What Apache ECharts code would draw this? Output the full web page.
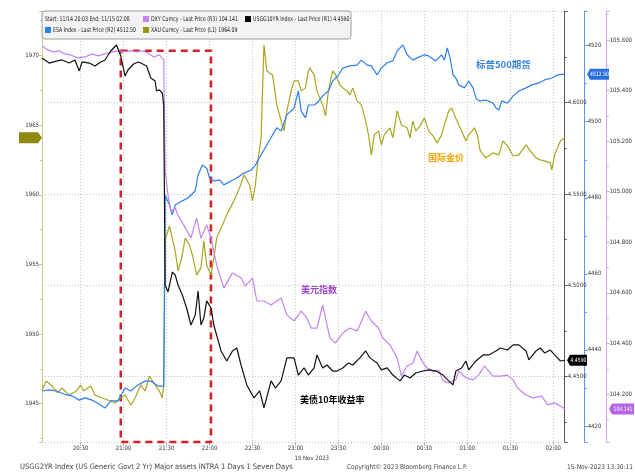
<!DOCTYPE html>
<html><head><meta charset="utf-8">
<script src="https://cdn.jsdelivr.net/npm/echarts@6/dist/echarts.min.js"></script>
<style>html,body{margin:0;padding:0;background:#fff}#c{width:635px;height:475px}</style>
</head><body><div id="c"></div>
<script>
// ---------- data ----------
const tickLabels = ['20:30','21:00','21:30','22:00','22:30','23:00','23:30','00:00','00:30','01:00','01:30','02:00'];
const startMinute = 20*60+3, endMinute = 26*60+8; // 20:03 .. 02:08 (next day)

const goldData = [['20:03',1945.98],['20:06',1946.63],['20:10',1946.27],['20:14',1945.77],['20:17',1946.13],['20:22',1945.62],['20:27',1945.91],['20:30',1946.34],['20:32',1945.91],['20:37',1946.27],['20:40',1945.62],['20:45',1945.41],['20:49',1945.27],['20:54',1945.05],['20:58',1945.41],['21:01',1945.62],['21:05',1944.91],['21:08',1945.41],['21:10',1945.91],['21:12',1946.34],['21:15',1945.91],['21:18',1946.99],['21:22',1946.34],['21:25',1945.91],['21:27',1945.41],['21:28',1946.34],
['21:29',1956.76],['21:32',1957.77],['21:36',1955.97],['21:38',1954.53],['21:41',1955.68],['21:43',1956.90],['21:46',1956.40],['21:48',1955.68],['21:51',1954.25],['21:54',1954.75],['21:56',1956.69],['21:58',1954.96],['22:01',1954.25],['22:03',1955.47],['22:05',1956.90],['22:09',1957.84],['22:12',1958.56],['22:17',1959.56],['22:21',1960.50],['22:24',1961.43],['22:28',1960.71],['22:30',1959.56],['22:32',1960.71],['22:34',1962.65],['22:36',1964.09],['22:37',1967.54],['22:38',1970.77],['22:40',1968.90],['22:44',1968.61],['22:47',1966.46],['22:50',1965.31],['22:52',1964.59],['22:54',1966.03],['22:57',1967.46],['22:59',1968.18],['23:02',1968.18],['23:04',1967.46],['23:07',1967.68],['23:09',1968.90],['23:10',1969.12],['23:13',1968.61],['23:15',1967.46],['23:19',1966.46],['23:21',1965.67],['23:23',1967.46],['23:26',1968.90],['23:28',1968.61],['23:31',1967.90],['23:33',1967.68],['23:36',1967.46],['23:38',1967.18],['23:40',1967.68],['23:43',1966.75],['23:46',1966.46],['23:49',1965.31],['23:51',1964.30],['23:53',1962.87],['23:55',1964.30],['23:58',1964.59],['00:00',1963.58],['00:02',1964.30],['00:06',1964.81],['00:08',1964.09],['00:11',1966.03],['00:14',1965.02],['00:18',1964.81],['00:20',1964.09],['00:22',1965.31],['00:24',1964.59],['00:27',1964.95],['00:30',1965.52],['00:33',1964.59],['00:36',1964.23],['00:39',1963.73],['00:42',1964.30],['00:44',1965.02],['00:47',1966.03],['00:49',1966.24],['00:51',1965.74],['00:54',1965.02],['00:56',1964.59],['00:59',1963.87],['01:01',1964.30],['01:05',1964.81],['01:07',1964.30],['01:09',1963.15],['01:13',1962.65],['01:16',1962.87],['01:18',1963.01],['01:22',1962.87],['01:25',1963.87],['01:29',1963.37],['01:32',1962.79],['01:36',1962.87],['01:41',1963.58],['01:44',1963.15],['01:48',1962.65],['01:51',1962.51],['01:54',1962.44],['01:58',1962.29],['01:59',1961.79],['02:01',1962.87],['02:05',1963.87],['02:08',1964.09]];

const esaData = [['20:03',4429.2],['20:08',4429.5],['20:13',4429.2],['20:20',4428.2],['20:24',4427.9],['20:29',4426.8],['20:33',4427.4],['20:38',4426.8],['20:42',4426.0],['20:47',4424.7],['20:51',4426.6],['20:56',4426.6],['21:01',4430.0],['21:05',4429.2],['21:10',4430.8],['21:15',4431.8],['21:19',4431.8],['21:24',4430.5],['21:28',4430.5],
['21:29',4480.7],['21:32',4478.1],['21:34',4475.5],['21:36',4478.1],['21:41',4479.2],['21:45',4480.0],['21:50',4481.8],['21:52',4486.0],['21:55',4488.6],['21:58',4487.8],['22:00',4485.2],['22:03',4484.4],['22:07',4484.7],['22:10',4483.4],['22:15',4484.4],['22:19',4485.2],['22:24',4486.5],['22:29',4487.3],['22:32',4488.6],['22:36',4491.3],['22:40',4493.9],['22:44',4496.5],['22:47',4498.4],['22:50',4497.6],['22:54',4501.8],['22:59',4503.6],['23:02',4508.1],['23:04',4502.8],['23:07',4501.0],['23:09',4504.4],['23:13',4504.4],['23:15',4504.9],['23:19',4506.8],['23:23',4508.1],['23:26',4510.7],['23:30',4512.3],['23:33',4514.1],['23:38',4514.7],['23:43',4514.9],['23:46',4516.2],['23:50',4514.9],['23:53',4514.7],['23:57',4512.3],['00:00',4514.1],['00:04',4515.5],['00:08',4516.0],['00:11',4518.6],['00:15',4520.2],['00:18',4517.6],['00:22',4516.2],['00:25',4516.8],['00:30',4517.6],['00:33',4517.3],['00:38',4516.0],['00:42',4517.6],['00:44',4516.2],['00:46',4519.4],['00:48',4516.8],['00:50',4512.3],['00:52',4511.5],['00:54',4509.7],['00:58',4508.9],['01:01',4510.7],['01:04',4508.9],['01:06',4506.2],['01:08',4505.5],['01:13',4505.7],['01:18',4504.9],['01:20',4503.6],['01:22',4503.1],['01:24',4505.5],['01:28',4504.9],['01:32',4506.8],['01:36',4508.1],['01:41',4508.9],['01:45',4509.7],['01:50',4510.2],['01:54',4511.0],['01:59',4511.5],['02:03',4512.3],['02:08',4512.5]];

const dxyData = [['20:03',105.576],['20:06',105.564],['20:11',105.553],['20:15',105.557],['20:19',105.545],['20:23',105.541],['20:28',105.529],['20:33',105.533],['20:38',105.545],['20:42',105.537],['20:47',105.545],['20:52',105.553],['20:56',105.557],['21:00',105.553],['21:05',105.557],['21:09',105.553],['21:13',105.557],['21:17',105.549],['21:21',105.533],['21:25',105.541],['21:28',105.521],
['21:29',105.086],['21:31',104.987],['21:33',104.920],['21:36',104.936],['21:38',104.908],['21:43',104.857],['21:47',104.817],['21:51',104.896],['21:54',104.817],['21:58',104.869],['22:01',104.817],['22:05',104.710],['22:10',104.619],['22:16',104.679],['22:22',104.659],['22:25',104.627],['22:30',104.659],['22:33',104.568],['22:38',104.568],['22:43',104.552],['22:47',104.568],['22:50',104.580],['22:54',104.513],['22:59',104.489],['23:04',104.528],['23:08',104.501],['23:11',104.461],['23:15',104.461],['23:19',104.552],['23:24',104.422],['23:28',104.402],['23:33',104.441],['23:38',104.461],['23:43',104.449],['23:45',104.473],['23:49',104.528],['23:53',104.489],['23:58',104.461],['00:01',104.422],['00:06',104.394],['00:11',104.343],['00:14',104.271],['00:18',104.311],['00:22',104.323],['00:25',104.370],['00:29',104.323],['00:32',104.303],['00:36',104.291],['00:40',104.295],['00:43',104.252],['00:47',104.244],['00:52',104.256],['00:54',104.291],['00:59',104.264],['01:04',104.256],['01:08',104.275],['01:12',104.311],['01:15',104.291],['01:18',104.271],['01:23',104.271],['01:28',104.275],['01:32',104.256],['01:35',104.224],['01:41',104.196],['01:46',104.185],['01:52',104.192],['01:56',104.157],['02:01',104.165],['02:05',104.153],['02:08',104.141]];

const us10yData = [['20:03',4.6245],['20:08',4.6217],['20:13',4.6228],['20:17',4.6234],['20:22',4.6217],['20:26',4.6234],['20:29',4.6174],['20:31',4.6223],['20:36',4.6217],['20:40',4.6201],['20:44',4.6223],['20:47',4.6234],['20:51',4.6283],['20:55',4.6316],['20:58',4.6256],['21:01',4.6146],['21:03',4.6179],['21:07',4.6212],['21:10',4.6223],['21:12',4.6217],['21:16',4.6201],['21:19',4.6135],['21:22',4.6119],['21:23',4.6064],['21:25',4.6070],['21:27',4.6053],['21:28',4.5987],
['21:29',4.5002],['21:31',4.4964],['21:34',4.5073],['21:36',4.5057],['21:38',4.5002],['21:41',4.4947],['21:44',4.4876],['21:47',4.4783],['21:50',4.4838],['21:52',4.4969],['21:54',4.4783],['21:56',4.4821],['21:58',4.4915],['22:01',4.4876],['22:03',4.4783],['22:08',4.4641],['22:12',4.4586],['22:16',4.4641],['22:19',4.4657],['22:22',4.4564],['22:26',4.4455],['22:31',4.4384],['22:35',4.4422],['22:38',4.4329],['22:43',4.4477],['22:46',4.4438],['22:50',4.4477],['22:54',4.4603],['22:59',4.4603],['23:02',4.4509],['23:06',4.4548],['23:09',4.4509],['23:13',4.4548],['23:15',4.4619],['23:19',4.4548],['23:22',4.4564],['23:26',4.4531],['23:29',4.4531],['23:33',4.4548],['23:37',4.4575],['23:40',4.4564],['23:45',4.4603],['23:49',4.4641],['23:52',4.4603],['23:57',4.4575],['00:00',4.4537],['00:04',4.4548],['00:08',4.4509],['00:13',4.4477],['00:16',4.4509],['00:20',4.4493],['00:24',4.4520],['00:29',4.4531],['00:33',4.4537],['00:38',4.4531],['00:43',4.4509],['00:47',4.4477],['00:50',4.4455],['00:52',4.4531],['00:56',4.4548],['00:59',4.4586],['01:01',4.4537],['01:06',4.4586],['01:11',4.4619],['01:15',4.4619],['01:20',4.4641],['01:23',4.4657],['01:28',4.4646],['01:32',4.4674],['01:36',4.4674],['01:41',4.4641],['01:43',4.4592],['01:48',4.4641],['01:51',4.4657],['01:54',4.4630],['01:58',4.4646],['02:01',4.4619],['02:05',4.4586],['02:08',4.4590]];

const lastGold = 1964.09, lastEsa = 4512.50, lastDxy = 104.141, lastUs10y = 4.4590;
const boxRange = { fromTime: '20:58', toTime: '22:01', top: 1970.34, bottom: 1942.25 };

// ---------- chart ----------
const NF = '"Liberation Sans Narrow","DejaVu Sans Condensed","Roboto Condensed",Roboto,"Liberation Sans",sans-serif';
const CJK = '"Noto Sans CJK SC","Noto Sans CJK TC",sans-serif';
const C = { gold:'#aaa51f', esa:'#2b7ff0', dxy:'#c384f0', us10y:'#111111' };

const minutes = [];
for (let m = startMinute; m <= endMinute; m++) {
  const h = Math.floor(m/60)%24, mm = m%60;
  minutes.push(String(h).padStart(2,'0') + ':' + String(mm).padStart(2,'0'));
}
const isTick = (i, v) => tickLabels.indexOf(v) >= 0;
const near = (v, step) => Math.abs(v - Math.round(v/step)*step) < 1e-7;

function mkY(extra, lineColor, fmt) {
  return Object.assign({
    type: 'value', splitNumber: 6,
    axisLine: { show: true, onZero: false, lineStyle: { color: lineColor, width: 1 } },
    axisTick: { show: true, length: 3, lineStyle: { color: lineColor } },
    minorTick: { show: true, splitNumber: 2, length: 2, lineStyle: { color: lineColor } },
    splitLine: { show: false },
    axisLabel: { fontFamily: NF, fontSize: 6, color: '#333', margin: 3, formatter: fmt }
  }, extra);
}

const chart = echarts.init(document.getElementById('c'), null, { renderer: 'canvas' });
chart.setOption({
  animation: false,
  backgroundColor: '#ffffff',
  grid: { left: 42, right: 68, top: 11, bottom: 33, containLabel: false },
  xAxis: {
    type: 'category', data: minutes, boundaryGap: false,
    axisLine: { show: false },
    axisTick: { show: true, interval: isTick, length: 4, inside: false, lineStyle: { color: '#bbb' } },
    splitLine: { show: true, interval: isTick, lineStyle: { color: '#c4c4c4', type: [1, 2] } },
    axisLabel: { interval: isTick, fontFamily: NF, fontSize: 6, color: '#333', margin: 3 }
  },
  yAxis: [
    mkY({ position: 'left', min: 1942.25, max: 1973.2, minInterval: 5, maxInterval: 5 }, '#cbcb8e',
        v => near(v, 5) ? v.toFixed(0) : ''),
    mkY({ position: 'right', offset: 0, min: 4.41425, max: 4.6502, minInterval: 0.05, maxInterval: 0.05,
          splitLine: { show: true, lineStyle: { color: '#c4c4c4', type: [1, 2] } } }, '#555',
        v => (near(v, 0.05) && v < 4.62) ? v.toFixed(4) : ''),
    mkY({ position: 'right', offset: 20, min: 4415.79, max: 4529.12, minInterval: 20, maxInterval: 20 }, '#5c96f0',
        v => near(v, 20) ? v.toFixed(0) : ''),
    mkY({ position: 'right', offset: 42, min: 104.0104, max: 105.7147, minInterval: 0.2, maxInterval: 0.2 }, '#d2a6f5',
        v => near(v, 0.2) ? v.toFixed(3) : '')
  ],
  series: [
    { name: 'XAU', type: 'line', yAxisIndex: 0, data: goldData, showSymbol: false, symbol: 'none',
      lineStyle: { color: C.gold, width: 1.2 }, itemStyle: { color: C.gold }, z: 2,
      markArea: { silent: true, itemStyle: { color: 'rgba(0,0,0,0)', borderColor: '#d42222', borderWidth: 2.5, borderType: [7, 5] },
        data: [[{ xAxis: boxRange.fromTime, yAxis: boxRange.top }, { xAxis: boxRange.toTime, yAxis: boxRange.bottom }]] } },
    { name: 'ESA', type: 'line', yAxisIndex: 2, data: esaData, showSymbol: false, symbol: 'none',
      lineStyle: { color: C.esa, width: 1.2 }, itemStyle: { color: C.esa }, z: 3 },
    { name: 'DXY', type: 'line', yAxisIndex: 3, data: dxyData, showSymbol: false, symbol: 'none',
      lineStyle: { color: C.dxy, width: 1.2 }, itemStyle: { color: C.dxy }, z: 4 },
    { name: 'USGG10YR', type: 'line', yAxisIndex: 1, data: us10yData, showSymbol: false, symbol: 'none',
      lineStyle: { color: C.us10y, width: 1.2 }, itemStyle: { color: C.us10y }, z: 5 }
  ]
});

// ---------- overlays ----------
const lastIdx = minutes.length - 1;
const yOf = (seriesIndex, v) => chart.convertToPixel({ seriesIndex }, [lastIdx, v])[1];
const xOf = (t) => chart.convertToPixel({ seriesIndex: 0 }, [minutes.indexOf(t), lastGold])[0];

function txt(x, y, s, o, sx) {
  const e = { type: 'text', x, y, z: 200, style: Object.assign({ text: s, fontFamily: NF, fontSize: 6.5, fill: '#222', align: 'left', verticalAlign: 'middle' }, o || {}) };
  if (sx) e.scaleX = sx;
  return e;
}
function tagLeftPointing(x0, x1, y, fill, label, textFill) {
  return [
    { type: 'polygon', z: 210, shape: { points: [[x0, y], [x0 + 3, y - 5.5], [x1, y - 5.5], [x1, y + 5.5], [x0 + 3, y + 5.5]] }, style: { fill } },
    txt((x0 + 3 + x1) / 2, y, label, { align: 'center', fill: textFill, fontSize: 6 }, 0.85)
  ].map(e => (e.z = 210, e));
}
const g = [];
const LS = 0.8; // condensed legend text
// legend box
g.push({ type: 'rect', z: 190, shape: { x: 42, y: 11, width: 309, height: 28, r: 3 }, style: { fill: '#f3f3f3', stroke: '#9c9c9c', lineWidth: 1 } });
g.push(txt(45, 19, 'Start: 11/14 20:03 End: 11/15 02:08', null, LS));
g.push({ type: 'rect', z: 200, shape: { x: 143, y: 16, width: 6, height: 6 }, style: { fill: C.dxy } });
g.push(txt(151, 19, 'DXY Curncy - Last Price (R3) ' + lastDxy.toFixed(3), null, LS));
g.push({ type: 'rect', z: 200, shape: { x: 245, y: 16, width: 6, height: 6 }, style: { fill: '#000' } });
g.push(txt(253, 19, 'USGG10YR Index - Last Price (R1) ' + lastUs10y.toFixed(4), null, LS));
g.push({ type: 'rect', z: 200, shape: { x: 45, y: 27, width: 6, height: 6 }, style: { fill: C.esa } });
g.push(txt(53, 30, 'ESA Index - Last Price (R2) ' + lastEsa.toFixed(2), null, LS));
g.push({ type: 'rect', z: 200, shape: { x: 143, y: 27, width: 6, height: 6 }, style: { fill: '#9a9416' } });
g.push(txt(151, 30, 'XAU Curncy - Last Price (L1) ' + lastGold.toFixed(2), null, LS));

// value tags
const gy = yOf(0, lastGold);
g.push({ type: 'polygon', z: 210, shape: { points: [[19, gy - 5.5], [38, gy - 5.5], [42, gy], [38, gy + 5.5], [19, gy + 5.5]] }, style: { fill: '#8e8912' } });
g.push(txt(28.5, gy, lastGold.toFixed(2), { align: 'center', fill: '#111', fontSize: 6 }, 0.85));
g.push(...tagLeftPointing(587, 609, yOf(1, lastEsa), '#2a6fe0', lastEsa.toFixed(2), '#fff'));
g.push(...tagLeftPointing(567, 587, yOf(3, lastUs10y), '#000', lastUs10y.toFixed(4), '#fff'));
g.push(...tagLeftPointing(609, 634, yOf(2, lastDxy), '#b565e8', lastDxy.toFixed(3), '#fff'));

// annotations
g.push(txt(476, 64, '标普500期货', { fontFamily: CJK, fontSize: 9.5, fontWeight: 'bold', fill: '#3b86dc' }));
g.push(txt(428, 158, '国际金价', { fontFamily: CJK, fontSize: 9, fontWeight: 'bold', fill: '#f0a400' }));
g.push(txt(301, 290, '美元指数', { fontFamily: CJK, fontSize: 9, fontWeight: 'bold', fill: '#9a45c8' }));
g.push(txt(300, 400, '美债10年收益率', { fontFamily: CJK, fontSize: 9, fontWeight: 'bold', fill: '#000' }));

// footer texts
g.push(txt(xOf('23:00') - 1, 458, '15 Nov 2023', { fill: '#333', fontSize: 6 }));
g.push(txt(20, 467, 'USGG2YR Index (US Generic Govt 2 Yr) Major assets INTRA 1 Days 1 Seven Days', { fill: '#444', fontSize: 7.5 }));
g.push(txt(347, 467, 'Copyright© 2023 Bloomberg Finance L.P.', { fill: '#444', fontSize: 6.5 }));
g.push(txt(633, 467, '15-Nov-2023 13:30:11', { fill: '#444', align: 'right', fontSize: 6.5 }));

chart.setOption({ graphic: g });
</script>
</body></html>
